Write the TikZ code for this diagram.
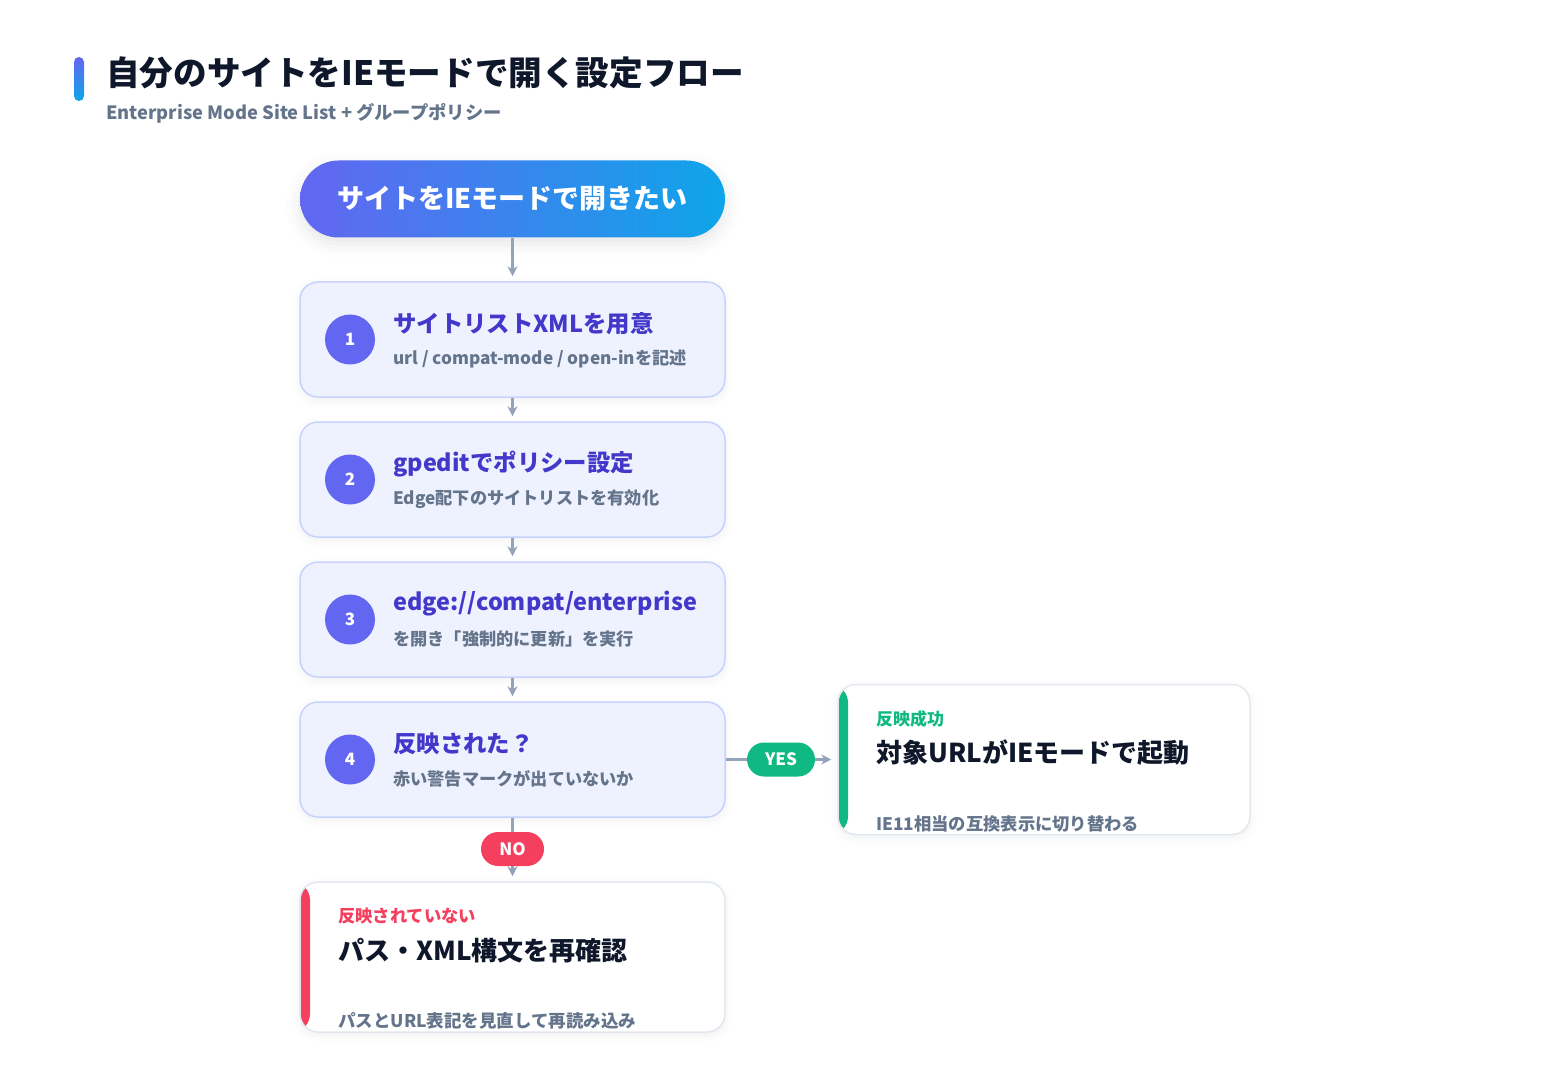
\documentclass[tikz,border=0pt]{standalone}
\usepackage{fontspec}
\setmainfont{Noto Sans CJK JP}
\usetikzlibrary{arrows.meta,shadows.blur}
\definecolor{ink}{HTML}{0F172A}
\definecolor{slate}{HTML}{64748B}
\definecolor{indigo}{HTML}{6366F1}
\definecolor{sky}{HTML}{0EA5E9}
\definecolor{deep}{HTML}{4338CA}
\definecolor{pale}{HTML}{EEF2FF}
\definecolor{rim}{HTML}{C7D2FE}
\definecolor{edgegray}{HTML}{E2E8F0}
\definecolor{wire}{HTML}{94A3B8}
\definecolor{okgreen}{HTML}{10B981}
\definecolor{ngred}{HTML}{F43F5E}
\newcommand{\fs}[1]{\fontsize{#1}{#1}\selectfont}

\begin{document}
\begin{tikzpicture}[x=1pt,y=-1pt,
            >={Stealth[width=10pt,length=10pt]},
            stepbox/.style={draw=rim,line width=1.5pt,fill=pale,rounded corners=18pt,
              minimum width=425pt,minimum height=115pt,inner sep=0pt,
              blur shadow={shadow xshift=0pt,shadow yshift=-3pt,shadow blur radius=8pt,shadow opacity=6}},
            badge/.style={circle,fill=indigo,minimum size=50pt,inner sep=0pt,text=white,font=\bfseries\fs{17}},
            head/.style={anchor=west,inner sep=0pt,text=deep,font=\bfseries\fs{23.4}},
            note/.style={anchor=west,inner sep=0pt,text=slate,font=\bfseries\fs{17.2}},
            flow/.style={draw=wire,line width=2.5pt,->,shorten >=5pt},
            tag/.style={rounded corners=17pt,minimum height=34pt,inner sep=0pt,text=white,font=\bfseries\fs{17}},
            result/.style={draw=edgegray,line width=1.5pt,fill=white,rounded corners=18pt,
              minimum height=150pt,inner sep=0pt,
              blur shadow={shadow xshift=0pt,shadow yshift=-3pt,shadow blur radius=8pt,shadow opacity=6},
              path picture={\fill[#1](path picture bounding box.north west)
                rectangle ([xshift=10pt]path picture bounding box.south west);}}]
            \useasboundingbox(0,0)rectangle(1550,1075);
            % heading
            \shade[top color=indigo,bottom color=sky,rounded corners=5pt](74,57)rectangle(84,101);
            \node[anchor=west,inner sep=0pt,text=ink,font=\bfseries\fs{33.6}](title)at(106,72.5)
              {自分のサイトをIEモードで開く設定フロー};
            \node[anchor=west,inner sep=0pt,text=slate,font=\bfseries\fs{18.3}](subtitle)at(106,113)
              {Enterprise Mode Site List + グループポリシー};
            % start
            \node[rounded corners=38.5pt,minimum width=425pt,minimum height=77pt,inner sep=0pt,
              left color=indigo,right color=sky,text=white,font=\bfseries\fs{27},
              blur shadow={shadow xshift=0pt,shadow yshift=-6pt,shadow blur radius=14pt,shadow opacity=10}]
              (start)at(512.5,199){サイトをIEモードで開きたい};
            % steps
            \node[stepbox](s1)at(512.5,339.5){};
            \node[badge](n1)at(350,339.5){1};
            \node[head]at(393,324){サイトリストXMLを用意};
            \node[note]at(393,359){url / compat-mode / open-inを記述};
            \node[stepbox](s2)at(512.5,479.5){};
            \node[badge](n2)at(350,479.5){2};
            \node[head]at(393,464){gpeditでポリシー設定};
            \node[note]at(393,499){Edge配下のサイトリストを有効化};
            \node[stepbox](s3)at(512.5,619.5){};
            \node[badge](n3)at(350,619.5){3};
            \node[head]at(393,604){edge://compat/enterprise};
            \node[note]at(393,639){を開き「強制的に更新」を実行};
            \node[stepbox](s4)at(512.5,759.5){};
            \node[badge](n4)at(350,759.5){4};
            \node[head]at(393,744){反映された？};
            \node[note]at(393,779){赤い警告マークが出ていないか};
            % outcomes
            \node[result=okgreen,minimum width=412pt](ok)at(1044,759.5){};
            \node[anchor=west,inner sep=0pt,text=okgreen,font=\bfseries\fs{17}]at(876,719.5){反映成功};
            \node[anchor=west,inner sep=0pt,text=ink,font=\bfseries\fs{26}]at(876,753){対象URLがIEモードで起動};
            \node[anchor=west,inner sep=0pt,text=slate,font=\bfseries\fs{17.3}]at(876,824){IE11相当の互換表示に切り替わる};
            \node[result=ngred,minimum width=425pt](ng)at(512.5,957){};
            \node[anchor=west,inner sep=0pt,text=ngred,font=\bfseries\fs{17.3}]at(338,916.5){反映されていない};
            \node[anchor=west,inner sep=0pt,text=ink,font=\bfseries\fs{26}]at(338,951){パス・XML構文を再確認};
            \node[anchor=west,inner sep=0pt,text=slate,font=\bfseries\fs{17.5}]at(338,1021){パスとURL表記を見直して再読み込み};
            % connectors
            \draw[flow](start)--(s1);
            \draw[flow](s1)--(s2);
            \draw[flow](s2)--(s3);
            \draw[flow](s3)--(s4);
            \draw[flow,shorten >=6pt](s4)--(ok);
            \draw[flow](s4)--(ng);
            \node[tag,fill=okgreen,minimum width=68pt](yes)at(781,759.5){YES};
            \node[tag,fill=ngred,minimum width=63pt](no)at(512.5,849){NO};
          \end{tikzpicture}
\end{document}
